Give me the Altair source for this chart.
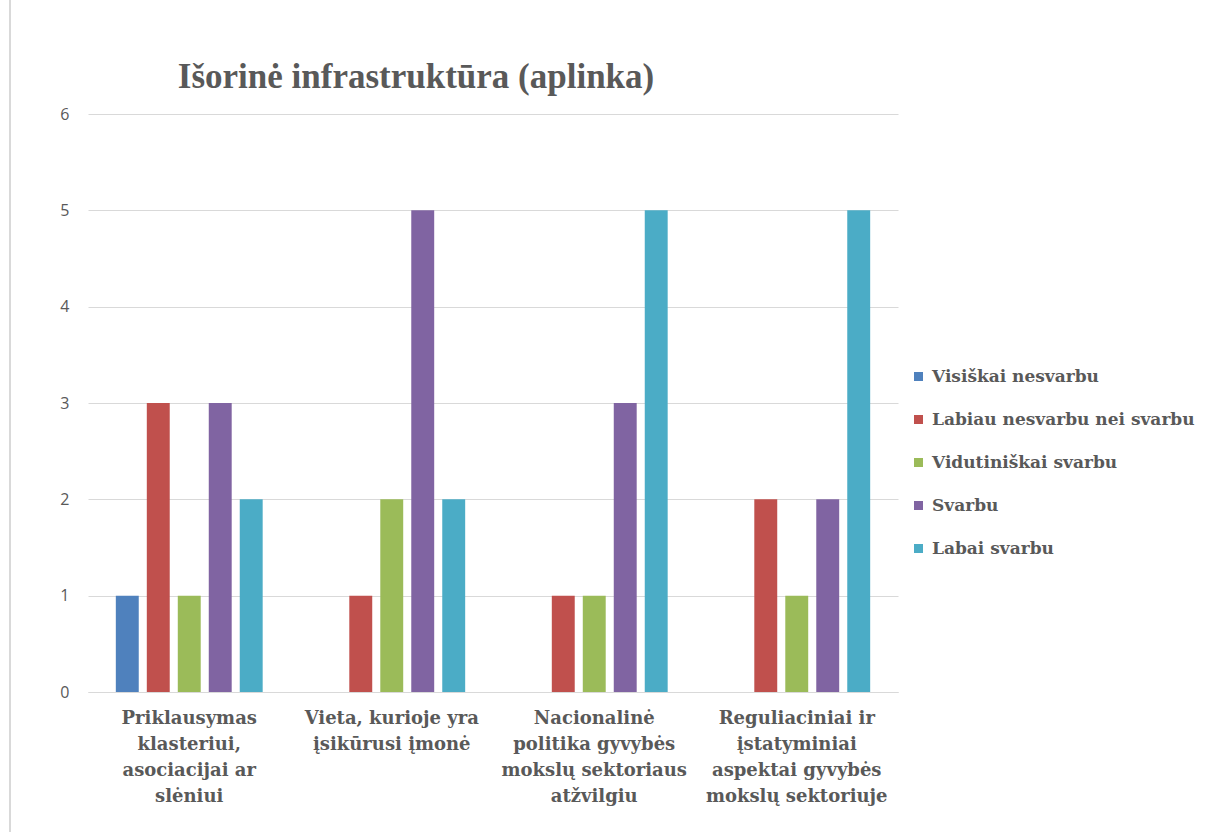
import altair as alt
import pandas as pd

categories = [
    "Priklausymas klasteriui, asociacijai ar slėniui",
    "Vieta, kurioje yra įsikūrusi įmonė",
    "Nacionalinė politika gyvybės mokslų sektoriaus atžvilgiu",
    "Reguliaciniai ir įstatyminiai aspektai gyvybės mokslų sektoriuje",
]
category_lines = [
    "Priklausymas|klasteriui,|asociacijai ar|slėniui",
    "Vieta, kurioje yra|įsikūrusi įmonė",
    "Nacionalinė|politika gyvybės|mokslų sektoriaus|atžvilgiu",
    "Reguliaciniai ir|įstatyminiai|aspektai gyvybės|mokslų sektoriuje",
]
series = [
    "Visiškai nesvarbu",
    "Labiau nesvarbu nei svarbu",
    "Vidutiniškai svarbu",
    "Svarbu",
    "Labai svarbu",
]
colors = ["#4F81BD", "#C0504D", "#9BBB59", "#8064A2", "#4BACC6"]

v_visiskai = [1, 0, 0, 0]
v_labiau = [3, 1, 1, 2]
v_vidutin = [1, 2, 1, 1]
v_svarbu = [3, 5, 3, 2]
v_labai = [2, 2, 5, 5]

chart_title = "Išorinė infrastruktūra (aplinka)"

values = [v_visiskai, v_labiau, v_vidutin, v_svarbu, v_labai]
rows = []
for s, vals in zip(series, values):
    for c, lines, v in zip(categories, category_lines, vals):
        rows.append({"cat": lines, "series": s, "value": v})
df = pd.DataFrame(rows)

serif = "Liberation Serif"
wide_serif = "DejaVu Serif"
gray = "#595959"

bars = alt.Chart(df).mark_bar().encode(
    x=alt.X(
        "cat:N",
        sort=category_lines,
        scale=alt.Scale(paddingInner=0.235, paddingOuter=0.1175),
        axis=alt.Axis(
            title=None,
            labelAngle=0,
            labelExpr="split(datum.value, '|')",
            labelFont=wide_serif,
            labelFontWeight="bold",
            labelFontSize=18,
            labelLineHeight=26,
            labelColor=gray,
            labelLimit=300,
            labelPadding=17,
            ticks=False,
            domainColor="#D9D9D9",
            domainWidth=1,
        ),
    ),
    xOffset=alt.XOffset(
        "series:N", sort=series, scale=alt.Scale(paddingInner=0.26, paddingOuter=0.13)
    ),
    y=alt.Y(
        "value:Q",
        scale=alt.Scale(domain=[0, 6]),
        axis=alt.Axis(
            title=None,
            values=[0, 1, 2, 3, 4, 5, 6],
            labelFont="Open Sans",
            labelFontSize=16,
            labelColor=gray,
            labelPadding=19,
            ticks=False,
            domain=False,
            gridColor="#D9D9D9",
            gridWidth=1,
        ),
    ),
    color=alt.Color(
        "series:N",
        sort=series,
        scale=alt.Scale(domain=series, range=colors),
        legend=alt.Legend(
            title=None,
            orient="none",
            legendX=822,
            legendY=254,
            symbolType="square",
            symbolSize=81,
            symbolStrokeWidth=0,
            labelFont=wide_serif,
            labelFontWeight="bold",
            labelFontSize=17,
            labelColor=gray,
            labelLimit=400,
            labelOffset=5,
            rowPadding=25,
        ),
    ),
)

border = alt.Chart(pd.DataFrame({"a": [0]})).mark_rule(color="#D9D9D9", strokeWidth=2).encode(
    x=alt.value(-78), y=alt.value(-114), y2=alt.value(718)
)

title = alt.Chart(pd.DataFrame({"t": [chart_title]})).mark_text(
    font=serif, fontSize=35, fontWeight="bold", color=gray,
    align="center", baseline="alphabetic",
).encode(text="t:N", x=alt.value(328), y=alt.value(-26))

chart = alt.layer(bars, border, title).properties(
    width=810,
    height=578,
    autosize=alt.AutoSizeParams(type="none"),
    padding={"left": 88, "top": 114, "right": 312, "bottom": 140},
).configure_view(stroke=None)

chart.save("out.html", embed_options={"renderer": "svg", "actions": False})
